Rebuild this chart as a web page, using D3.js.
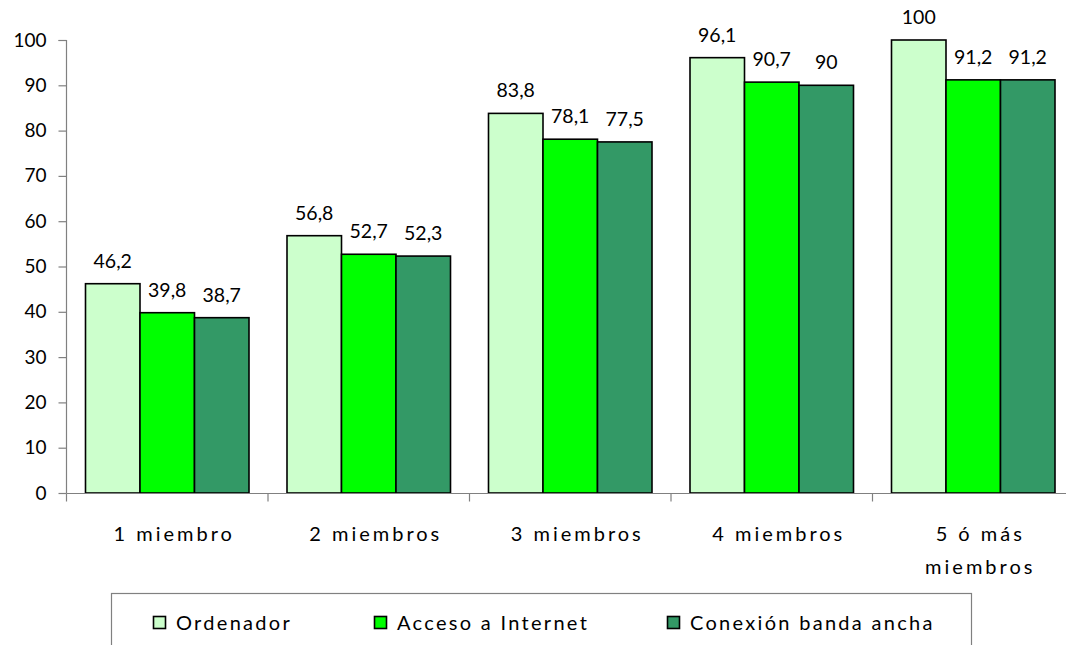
<!DOCTYPE html>
<html>
<head>
<meta charset="utf-8">
<script src="https://cdn.jsdelivr.net/npm/d3@7"></script>
<style>
  html, body { margin: 0; padding: 0; background: #fff; }
  svg { display: block; }
  text { font-family: Lato, "Open Sans", sans-serif; fill: #000; }
</style>
</head>
<body>
<svg id="chart" width="1066" height="645"></svg>
<script>
const categories = ["1 miembro", "2 miembros", "3 miembros", "4 miembros", "5 ó más miembros"];
const seriesNames = ["Ordenador", "Acceso a Internet", "Conexión banda ancha"];
const ordenador = [46.2, 56.8, 83.8, 96.1, 100];
const accesoInternet = [39.8, 52.7, 78.1, 90.7, 91.2];
const bandaAncha = [38.7, 52.3, 77.5, 90, 91.2];
const yTicks = [0, 10, 20, 30, 40, 50, 60, 70, 80, 90, 100];
const colors = ["#CCFFCC", "#00FF00", "#339966"];

const seriesValues = [ordenador, accesoInternet, bandaAncha];
const fmt = v => String(v).replace(".", ",");

const svg = d3.select("#chart");

const x = d3.scaleBand().domain(categories).range([66.5, 1074]).paddingInner(0).paddingOuter(0);
const inner = d3.scaleBand().domain(seriesNames).range([19, x.bandwidth() - 19]).padding(0);
const y = d3.scaleLinear().domain([0, 100]).range([493, 40]);

// bars
const groups = svg.append("g").selectAll("g")
  .data(categories)
  .join("g")
  .attr("transform", d => `translate(${x(d)},0)`);

groups.selectAll("rect")
  .data((c, i) => seriesNames.map((s, j) => ({ s, j, v: seriesValues[j][i] })))
  .join("rect")
  .attr("x", d => inner(d.s))
  .attr("y", d => y(d.v))
  .attr("width", inner.bandwidth())
  .attr("height", d => y(0) - y(d.v))
  .attr("fill", d => colors[d.j])
  .attr("stroke", "#000")
  .attr("stroke-width", 1.6);

groups.selectAll("text.val")
  .data((c, i) => seriesNames.map((s, j) => ({ s, j, v: seriesValues[j][i] })))
  .join("text")
  .attr("class", "val")
  .attr("x", d => inner(d.s) + inner.bandwidth() / 2)
  .attr("y", d => y(d.v) - 16)
  .attr("text-anchor", "middle")
  .attr("font-size", 19.5)
  .text(d => fmt(d.v));

// y axis
const yAxis = d3.axisLeft(y).tickValues(yTicks).tickSize(8).tickPadding(12).tickFormat(d => d);
const gy = svg.append("g").attr("transform", "translate(66.5,0)").call(yAxis);
gy.select(".domain").attr("stroke", "#808080").attr("stroke-width", 1.2).attr("d", "M-8,40.5H0V493");
gy.selectAll(".tick line").attr("stroke", "#808080").attr("stroke-width", 1.2);
gy.selectAll(".tick text").attr("font-size", 19).attr("font-family", "Lato, 'Open Sans', sans-serif").attr("fill", "#000");

// x axis
const xAxisG = svg.append("g").attr("transform", "translate(0,493.5)");
xAxisG.append("line").attr("x1", 66.5).attr("x2", 1074).attr("y1", 0).attr("y2", 0)
  .attr("stroke", "#808080").attr("stroke-width", 1.2);
xAxisG.selectAll("line.tk")
  .data(categories.concat(["end"]))
  .join("line")
  .attr("class", "tk")
  .attr("x1", (d, i) => i < categories.length ? x(d) : x(categories[categories.length - 1]) + x.bandwidth())
  .attr("x2", (d, i) => i < categories.length ? x(d) : x(categories[categories.length - 1]) + x.bandwidth())
  .attr("y1", 0).attr("y2", 8)
  .attr("stroke", "#808080").attr("stroke-width", 1.2);

// category labels (wrap last one)
const catLines = c => c === "5 ó más miembros" ? ["5 ó más", "miembros"] : [c];
xAxisG.selectAll("text.cat")
  .data(categories)
  .join("text")
  .attr("class", "cat")
  .attr("text-anchor", "middle")
  .attr("font-size", 20)
  .attr("letter-spacing", 3)
  .each(function (d) {
    const t = d3.select(this);
    catLines(d).forEach((ln, k) => {
      t.append("tspan")
        .attr("x", x(d) + x.bandwidth() / 2 + 7)
        .attr("y", 47 + k * 33)
        .text(ln);
    });
  });

// legend
const legend = svg.append("g");
legend.append("rect")
  .attr("x", 111.5).attr("y", 593.5).attr("width", 860).attr("height", 80)
  .attr("fill", "#fff").attr("stroke", "#808080").attr("stroke-width", 1.2);
const legendX = [153, 374, 667];
const li = legend.selectAll("g.li")
  .data(seriesNames)
  .join("g")
  .attr("class", "li")
  .attr("transform", (d, i) => `translate(${legendX[i]},616)`);
li.append("rect")
  .attr("x", 0.5).attr("y", 0.5).attr("width", 12).attr("height", 12)
  .attr("fill", (d, i) => colors[i]).attr("stroke", "#000").attr("stroke-width", 1.6);
li.append("text")
  .attr("x", 23).attr("y", 13.5)
  .attr("font-size", 20)
  .attr("letter-spacing", 2.3)
  .text(d => d);
</script>
</body>
</html>
